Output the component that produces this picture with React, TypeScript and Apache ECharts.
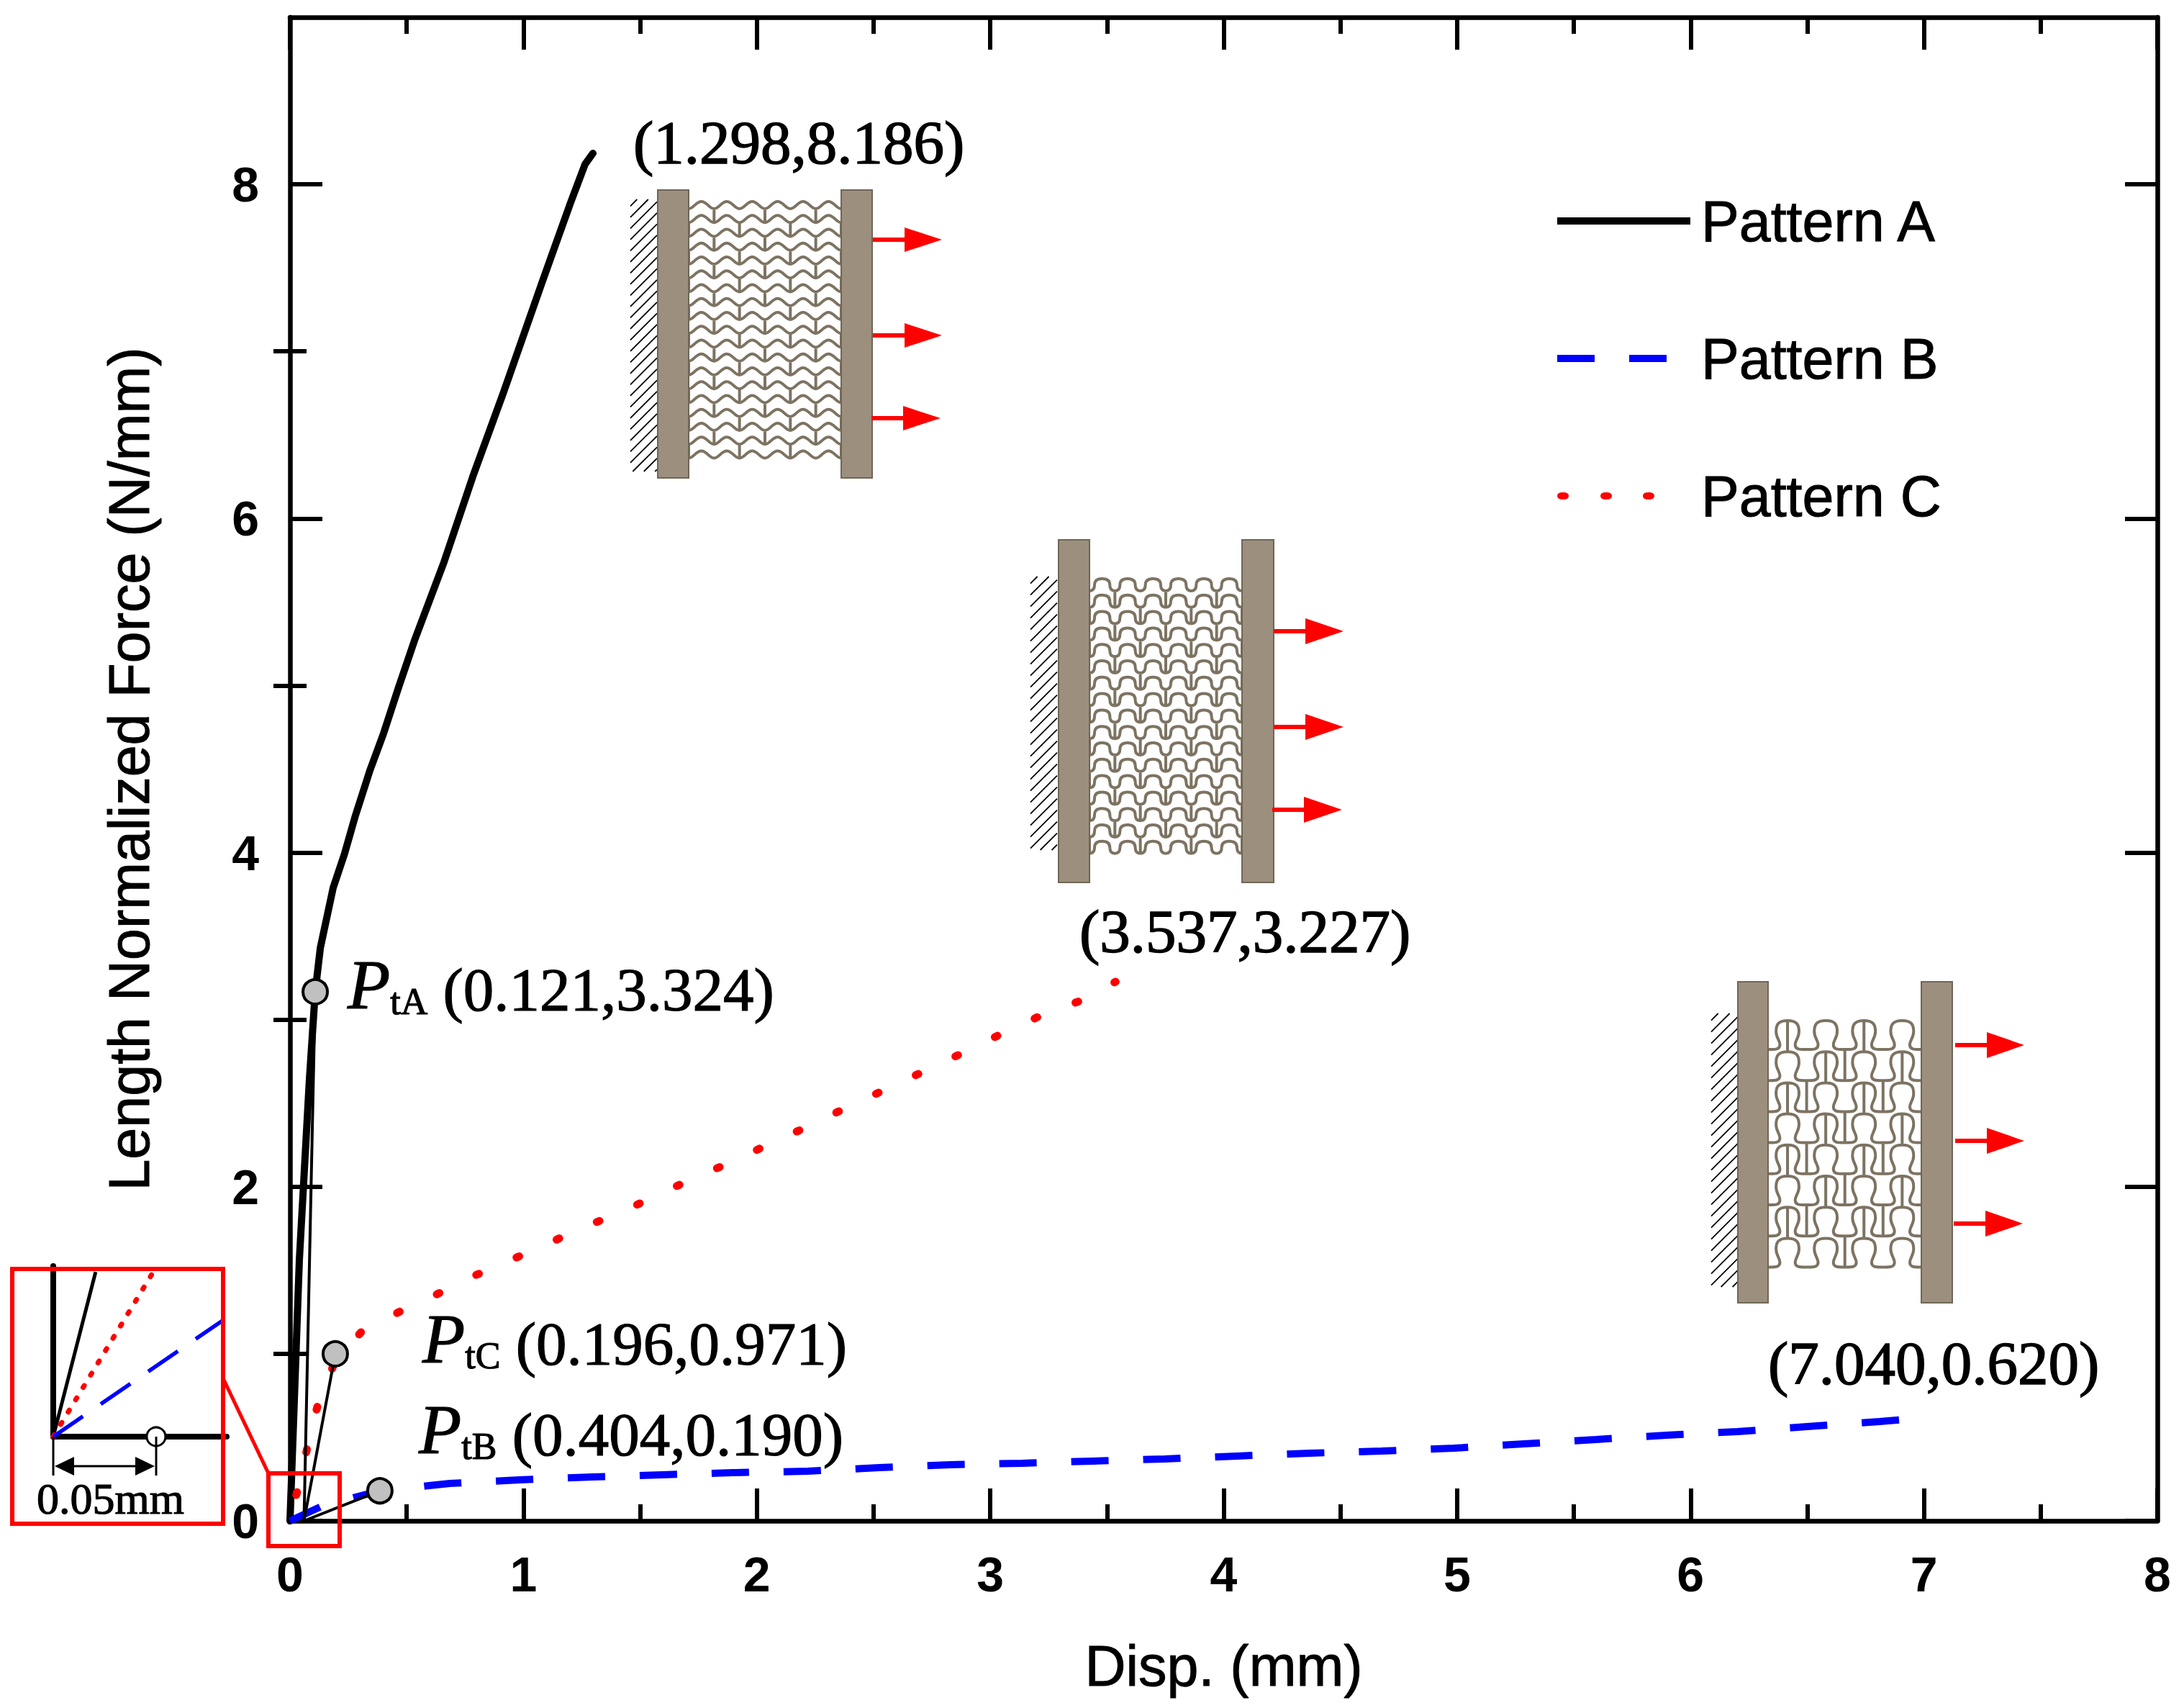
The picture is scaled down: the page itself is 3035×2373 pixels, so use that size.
import React, { useEffect, useRef } from "react";
import * as echarts from "echarts";

// ---- data ----
const patternA: number[][] = [[0,0],[0.04,1.56],[0.083,2.64],[0.108,3.167],[0.13,3.43],[0.185,3.79],[0.233,3.99],[0.28,4.22],[0.342,4.49],[0.40,4.71],[0.463,4.98],[0.536,5.28],[0.66,5.74],[0.783,6.25],[0.916,6.76],[1.079,7.41],[1.202,7.89],[1.264,8.12],[1.298,8.186]];
const patternB: number[][] = [[0,0],[0.14,0.09],[0.385,0.18],[0.684,0.224],[0.986,0.246],[1.295,0.263],[1.597,0.276],[1.908,0.289],[2.217,0.297],[2.525,0.319],[2.83,0.336],[3.138,0.345],[3.44,0.358],[3.748,0.371],[4.057,0.388],[4.368,0.405],[4.676,0.418],[4.985,0.435],[5.287,0.461],[5.595,0.487],[5.897,0.513],[6.2,0.534],[6.5,0.564],[6.81,0.595],[7.04,0.62]];
const patternC: number[][] = [[0,0],[0.046,0.263],[0.086,0.513],[0.13,0.754],[0.196,0.96],[0.307,1.133],[0.472,1.254],[0.63,1.357],[0.786,1.465],[0.944,1.56],[1.11,1.663],[1.267,1.762],[1.44,1.861],[1.6,1.969],[1.766,2.072],[1.927,2.171],[2.075,2.271],[2.235,2.37],[2.4,2.486],[2.57,2.594],[2.725,2.697],[2.88,2.8],[3.04,2.91],[3.21,3.02],[3.38,3.11],[3.537,3.227]];
const markerPoints: number[][] = [[0.108,3.167],[0.194,1.0],[0.385,0.18]];
const leaderA: number[][] = [[0.06,0],[0.108,3.167]];
const leaderC: number[][] = [[0.06,0],[0.194,1.0]];
const leaderB: number[][] = [[0.06,0],[0.385,0.18]];
const insetA: number[][] = [[0,0],[0.0206,0.56]];
const insetC: number[][] = [[0,0],[0.0486,0.56]];
const insetB: number[][] = [[0,0],[0.0832,0.399]];
const insetMark: number[][] = [[0.05,0]];
const xTicks = [0,1,2,3,4,5,6,7,8];
const yMajor = [0,2,4,6,8];
const yMinor = [1,3,5,7];

const SERIF = "Liberation Serif";
const SANS = "Liberation Sans";
const PLATE = "#9c8f7e";
const PLATE_EDGE = "#6f6656";
const WEB = "#7d7362";

// ---- decoration paths for the three specimen sketches ----
function hatchPath(x0: number, y0: number, x1: number, y1: number, step: number) {
  let d = "";
  for (let c = x0 + y0 + step * 0.6; c < x1 + y1; c += step) {
    const ax = Math.max(x0, c - y1), ay = c - ax;
    const bx = Math.min(x1, c - y0), by = c - bx;
    d += `M${ax} ${ay}L${bx} ${by}`;
  }
  return d;
}
function latticeA() {
  const x0 = 957, p = 35.33, pitch = 19.25, h = 10, rows = 19, top = 280;
  let d = "";
  for (let r = 0; r < rows; r++) {
    const t = top + r * pitch, v = t + h;
    d += `M${x0} ${v}`;
    for (let k = 0; k < 6; k++) {
      const x = x0 + k * p;
      d += `C${x + 0.2 * p} ${v} ${x + 0.28 * p} ${t} ${x + 0.5 * p} ${t}C${x + 0.72 * p} ${t} ${x + 0.8 * p} ${v} ${x + p} ${v}`;
    }
    if (r < rows - 1) for (let k = r % 2 === 0 ? 1 : 0; k <= 6; k += 2) d += `M${x0 + k * p} ${v}L${x0 + k * p} ${v + pitch}`;
  }
  return d;
}
function latticeB() {
  const x0 = 1514, p = 35.33, pitch = 22.8, h = 17, rows = 17, top = 804;
  let d = "";
  for (let r = 0; r < rows; r++) {
    const t = top + r * pitch, v = t + h, m = t + h * 0.5;
    d += `M${x0} ${v}`;
    for (let k = 0; k < 6; k++) {
      const x = x0 + k * p;
      d += `Q${x + 0.2 * p} ${v} ${x + 0.2 * p} ${m}Q${x + 0.2 * p} ${t} ${x + 0.5 * p} ${t}Q${x + 0.8 * p} ${t} ${x + 0.8 * p} ${m}Q${x + 0.8 * p} ${v} ${x + p} ${v}`;
    }
    if (r < rows - 1) for (let k = r % 2 === 0 ? 1 : 0; k <= 6; k += 2) d += `M${x0 + k * p} ${v}L${x0 + k * p} ${v + pitch}`;
  }
  return d;
}
function latticeC() {
  const x0 = 2457.5, p = 53.1, pitch = 43.2, h = 40, rows = 8, top = 1418;
  let d = "";
  for (let r = 0; r < rows; r++) {
    const t = top + r * pitch, v = t + h;
    const X = (x: number, u: number) => x + u * p;
    const Y = (w: number) => v - w * h;
    d += `M${x0} ${v}`;
    for (let k = 0; k < 4; k++) {
      const x = x0 + k * p;
      d += `C${X(x,.15)} ${Y(0)} ${X(x,.29)} ${Y(-.02)} ${X(x,.3)} ${Y(.15)}`;
      d += `C${X(x,.31)} ${Y(.3)} ${X(x,.2)} ${Y(.4)} ${X(x,.2)} ${Y(.62)}`;
      d += `C${X(x,.2)} ${Y(.85)} ${X(x,.25)} ${Y(1)} ${X(x,.5)} ${Y(1)}`;
      d += `C${X(x,.75)} ${Y(1)} ${X(x,.8)} ${Y(.85)} ${X(x,.8)} ${Y(.62)}`;
      d += `C${X(x,.8)} ${Y(.4)} ${X(x,.69)} ${Y(.3)} ${X(x,.7)} ${Y(.15)}`;
      d += `C${X(x,.71)} ${Y(-.02)} ${X(x,.85)} ${Y(0)} ${x + p} ${Y(0)}`;
    }
    if (r < rows - 1) {
      const humps = r % 2 === 0 ? [0.5, 2.5] : [1.5, 3.5];
      const valleys = r % 2 === 0 ? [2] : [1, 3];
      humps.forEach((u) => { d += `M${x0 + u * p} ${t}L${x0 + u * p} ${t + pitch}`; });
      valleys.forEach((u) => { d += `M${x0 + u * p} ${v}L${x0 + u * p} ${v + pitch}`; });
    }
  }
  return d;
}
const reg = (name: string, d: string) => echarts.graphic.registerShape(name, echarts.graphic.extendPath(d, {}));
reg("hatchA", hatchPath(876, 277, 913, 655, 15.5));
reg("hatchB", hatchPath(1432, 801, 1469, 1181, 16));
reg("hatchC", hatchPath(2378, 1408, 2415, 1788, 16));
reg("latticeA", latticeA());
reg("latticeB", latticeB());
reg("latticeC", latticeC());

function sketch(h: string, l: string, plates: number[], arrows: number[][]) {
  const [lx0, lx1, rx0, rx1, y0, y1] = plates;
  const out: any[] = [
    { type: h, x: 0, y: 0, style: { fill: "none", stroke: "#000", lineWidth: 1.8 }, silent: true },
    { type: l, x: 0, y: 0, style: { fill: "none", stroke: WEB, lineWidth: 4 }, silent: true },
    { type: "rect", shape: { x: lx0, y: y0, width: lx1 - lx0, height: y1 - y0 }, style: { fill: PLATE, stroke: PLATE_EDGE, lineWidth: 2 }, silent: true },
    { type: "rect", shape: { x: rx0, y: y0, width: rx1 - rx0, height: y1 - y0 }, style: { fill: PLATE, stroke: PLATE_EDGE, lineWidth: 2 }, silent: true },
  ];
  arrows.forEach(([ay, sx, bx, tx, hh]) => {
    out.push({ type: "line", shape: { x1: sx, y1: ay, x2: bx, y2: ay }, style: { stroke: "#ff0000", lineWidth: 6 }, silent: true });
    out.push({ type: "polygon", shape: { points: [[bx, ay - hh], [tx, ay], [bx, ay + hh]] }, style: { fill: "#ff0000" }, silent: true });
  });
  return out;
}

// y is the baseline: the text box is bottom-aligned, so the font's descent is added.
const serifText = (text: string, x: number, baseline: number, fontSize = 85, weight = 1.5) => ({
  type: "text", x, y: baseline + fontSize * 0.16, z: 100, silent: true,
  style: { text, fontFamily: SERIF, fontSize, fill: "#000", align: "left", verticalAlign: "bottom", stroke: "#000", lineWidth: weight },
});
const rt = { fill: "#000", verticalAlign: "bottom", fontFamily: SERIF, stroke: "#000", lineWidth: 1.2 };
const pointLabel = (sub: string, rest: string, x: number, y: number) => ({
  type: "text", x, y, z: 100, silent: true,
  style: {
    text: `{p|P}{s|${sub}}{v| ${rest}}`,
    align: "left", verticalAlign: "bottom",
    rich: {
      p: { ...rt, fontStyle: "italic", fontSize: 97 },
      s: { ...rt, fontSize: 52 },
      v: { ...rt, fontSize: 85 },
    },
  },
});

const RED = "#ff0000";
const graphics: any[] = [
  ...sketch("hatchA", "latticeA", [914, 957, 1169, 1212, 264, 664], [[333,1213,1257,1309,17],[466,1213,1257,1309,17],[581,1211,1255,1307,17]]),
  ...sketch("hatchB", "latticeB", [1471, 1514, 1726, 1770, 750, 1226], [[877,1770,1814,1867,18],[1010,1770,1814,1867,18],[1125,1768,1812,1865,18]]),
  ...sketch("hatchC", "latticeC", [2415, 2457, 2670, 2713, 1364, 1810], [[1452,2717,2761,2813,18],[1585,2717,2761,2813,18],[1700,2715,2759,2811,18]]),
  serifText("(1.298,8.186)", 880, 227),
  serifText("(3.537,3.227)", 1500, 1323),
  serifText("(7.040,0.620)", 2457, 1923),
  pointLabel("tA", "(0.121,3.324)", 483, 1417),
  pointLabel("tC", "(0.196,0.971)", 587, 1909),
  pointLabel("tB", "(0.404,0.190)", 582, 2035),
  { type: "rect", shape: { x: 17, y: 1763, width: 293, height: 354 }, style: { fill: "none", stroke: RED, lineWidth: 6 }, silent: true, z: 90 },
  { type: "rect", shape: { x: 373, y: 2047, width: 99, height: 101 }, style: { fill: "none", stroke: RED, lineWidth: 6 }, silent: true, z: 90 },
  { type: "line", shape: { x1: 310, y1: 1915, x2: 373, y2: 2047 }, style: { stroke: RED, lineWidth: 5 }, silent: true, z: 90 },
  { type: "line", shape: { x1: 74, y1: 1996, x2: 74, y2: 2050 }, style: { stroke: "#000", lineWidth: 3 }, silent: true, z: 100 },
  { type: "line", shape: { x1: 217, y1: 1996, x2: 217, y2: 2050 }, style: { stroke: "#000", lineWidth: 3 }, silent: true, z: 100 },
  { type: "line", shape: { x1: 95, y1: 2037, x2: 195, y2: 2037 }, style: { stroke: "#000", lineWidth: 3 }, silent: true, z: 100 },
  { type: "polygon", shape: { points: [[76, 2037], [103, 2024], [103, 2050]] }, style: { fill: "#000" }, silent: true, z: 100 },
  { type: "polygon", shape: { points: [[215, 2037], [188, 2024], [188, 2050]] }, style: { fill: "#000" }, silent: true, z: 100 },
  serifText("0.05mm", 51, 2103, 62, 1.2),
];

const axisLine = { show: true, onZero: false, lineStyle: { color: "#000", width: 6.5 } };
const tickStyle = { color: "#000", width: 6 };
const hiddenAxis = { splitLine: { show: false }, axisLabel: { show: false } };
const nameStyle = { fontFamily: SANS, fontSize: 79, color: "#000", textBorderColor: "#000", textBorderWidth: 1 };

// Legend samples: solid, two dashes, three dots (each path spans the same width).
const ICON_A = "path://M0 0H185V10H0Z";
const ICON_B = "path://M0 0H52V10H0ZM100 0H152V10H100ZM185 0L185 10";
const dot = (x: number) => `M${x} 5Q${x} 0 ${x + 8} 0Q${x + 16} 0 ${x + 16} 5Q${x + 16} 10 ${x + 8} 10Q${x} 10 ${x} 5Z`;
const ICON_C = `path://${dot(0)}${dot(60)}${dot(119)}M185 0L185 10`;

const option: any = {
  animation: false,
  backgroundColor: "#fff",
  graphic: { elements: graphics },
  grid: [
    { left: 403, top: 24, width: 2595, height: 2089, containLabel: false },
    { left: 74, top: 1759, width: 241, height: 237, containLabel: false },
  ],
  legend: {
    data: [
      { name: "Pattern A", icon: ICON_A, itemStyle: { color: "#000", borderWidth: 0 } },
      { name: "Pattern B", icon: ICON_B, itemStyle: { color: "#0000ff", borderWidth: 0 } },
      { name: "Pattern C", icon: ICON_C, itemStyle: { color: "#ff0000", borderWidth: 0 } },
    ],
    orient: "vertical",
    left: 2164,
    top: 267,
    itemWidth: 185,
    itemHeight: 10,
    itemGap: 111,
    padding: 0,
    selectedMode: false,
    textStyle: { ...nameStyle, padding: [0, 0, 4, 10] },
  },
  xAxis: [
    {
      type: "value", gridIndex: 0, min: 0, max: 8, interval: 1, position: "bottom",
      name: "Disp. (mm)", nameLocation: "middle", nameGap: 162,
      nameTextStyle: nameStyle,
      axisLine, splitLine: { show: false },
      axisTick: { show: true, inside: true, length: 45, lineStyle: tickStyle },
      minorTick: { show: true, splitNumber: 2, length: 23, lineStyle: tickStyle },
      axisLabel: { show: true, margin: 40, fontFamily: SANS, fontWeight: "bold", fontSize: 68, color: "#000", customValues: xTicks, formatter: (v: number) => String(v) },
    },
    {
      type: "value", gridIndex: 0, min: 0, max: 8, interval: 1, position: "top", ...hiddenAxis,
      axisLine,
      axisTick: { show: true, inside: true, length: 45, lineStyle: tickStyle },
      minorTick: { show: true, splitNumber: 2, length: 23, lineStyle: tickStyle },
    },
    {
      type: "value", gridIndex: 1, min: 0, max: 0.0843, position: "bottom", ...hiddenAxis,
      axisLine: { show: true, onZero: false, lineStyle: { color: "#000", width: 8 } }, axisTick: { show: false },
    },
  ],
  yAxis: [
    {
      type: "value", gridIndex: 0, min: 0, max: 9, position: "left",
      name: "Length Normalized Force (N/mm)", nameLocation: "middle", nameGap: 184,
      nameTextStyle: nameStyle,
      axisLine, splitLine: { show: false },
      axisTick: { show: true, inside: true, length: 45, lineStyle: tickStyle, customValues: yMajor },
      axisLabel: { show: true, margin: 43, padding: [0, 0, 6, 0], fontFamily: SANS, fontWeight: "bold", fontSize: 68, color: "#000", customValues: yMajor, formatter: (v: number) => String(v) },
    },
    {
      type: "value", gridIndex: 0, min: 0, max: 9, position: "right", ...hiddenAxis,
      axisLine,
      axisTick: { show: true, inside: true, length: 45, lineStyle: tickStyle, customValues: yMajor },
    },
    {
      type: "value", gridIndex: 0, min: 0, max: 9, position: "left", ...hiddenAxis,
      axisLine: { show: false },
      axisTick: { show: true, inside: true, length: 23, lineStyle: tickStyle, customValues: yMinor },
    },
    {
      type: "value", gridIndex: 0, min: 0, max: 9, position: "right", ...hiddenAxis,
      axisLine: { show: false },
      axisTick: { show: true, inside: true, length: 23, lineStyle: tickStyle, customValues: yMinor },
    },
    {
      type: "value", gridIndex: 1, min: 0, max: 0.58, position: "left", ...hiddenAxis,
      axisLine: { show: true, onZero: false, lineStyle: { color: "#000", width: 8 } }, axisTick: { show: false },
    },
  ],
  series: [
    { name: "Pattern A", type: "line", data: patternA, symbol: "none", clip: false, lineStyle: { color: "#000", width: 10, join: "round", cap: "round" }, itemStyle: { color: "#000" }, z: 3 },
    { name: "Pattern B", type: "line", data: patternB, symbol: "none", clip: false, lineStyle: { color: "#0000ff", width: 10, type: [52, 48], dashOffset: 6 }, itemStyle: { color: "#0000ff" }, z: 3 },
    { name: "Pattern C", type: "line", data: patternC, symbol: "none", clip: false, lineStyle: { color: "#ff0000", width: 11, type: [4, 57], dashOffset: 24, cap: "round" }, itemStyle: { color: "#ff0000" }, z: 4 },
    { name: "leader A", type: "line", data: leaderA, symbol: "none", lineStyle: { color: "#000", width: 4 }, z: 5 },
    { name: "leader C", type: "line", data: leaderC, symbol: "none", lineStyle: { color: "#000", width: 4 }, z: 5 },
    { name: "leader B", type: "line", data: leaderB, symbol: "none", lineStyle: { color: "#000", width: 4 }, z: 5 },
    { name: "transition", type: "scatter", data: markerPoints, symbol: "circle", symbolSize: 34, itemStyle: { color: "#c0c0c0", borderColor: "#000", borderWidth: 4, opacity: 1 }, z: 6 },
    { name: "inset A", type: "line", xAxisIndex: 2, yAxisIndex: 4, data: insetA, symbol: "none", clip: false, lineStyle: { color: "#000", width: 5 }, z: 3 },
    { name: "inset C", type: "line", xAxisIndex: 2, yAxisIndex: 4, data: insetC, symbol: "none", clip: false, lineStyle: { color: "#ff0000", width: 7, type: [3, 17], cap: "round" }, z: 4 },
    { name: "inset B", type: "line", xAxisIndex: 2, yAxisIndex: 4, data: insetB, symbol: "none", clip: false, lineStyle: { color: "#0000ff", width: 5.5, type: [50, 30] }, z: 5 },
    { name: "inset mark", type: "scatter", xAxisIndex: 2, yAxisIndex: 4, data: insetMark, symbol: "circle", symbolSize: 26, itemStyle: { color: "#fff", borderColor: "#000", borderWidth: 3, opacity: 1 }, z: 6 },
  ],
};

export default function App() {
  const ref = useRef<HTMLDivElement>(null);
  useEffect(() => {
    const chart = echarts.init(ref.current!, undefined, { renderer: "svg" });
    chart.setOption(option);
    return () => chart.dispose();
  }, []);
  return <div ref={ref} style={{ position: "fixed", left: 0, top: 0, width: 3035, height: 2373, background: "#fff" }} />;
}
